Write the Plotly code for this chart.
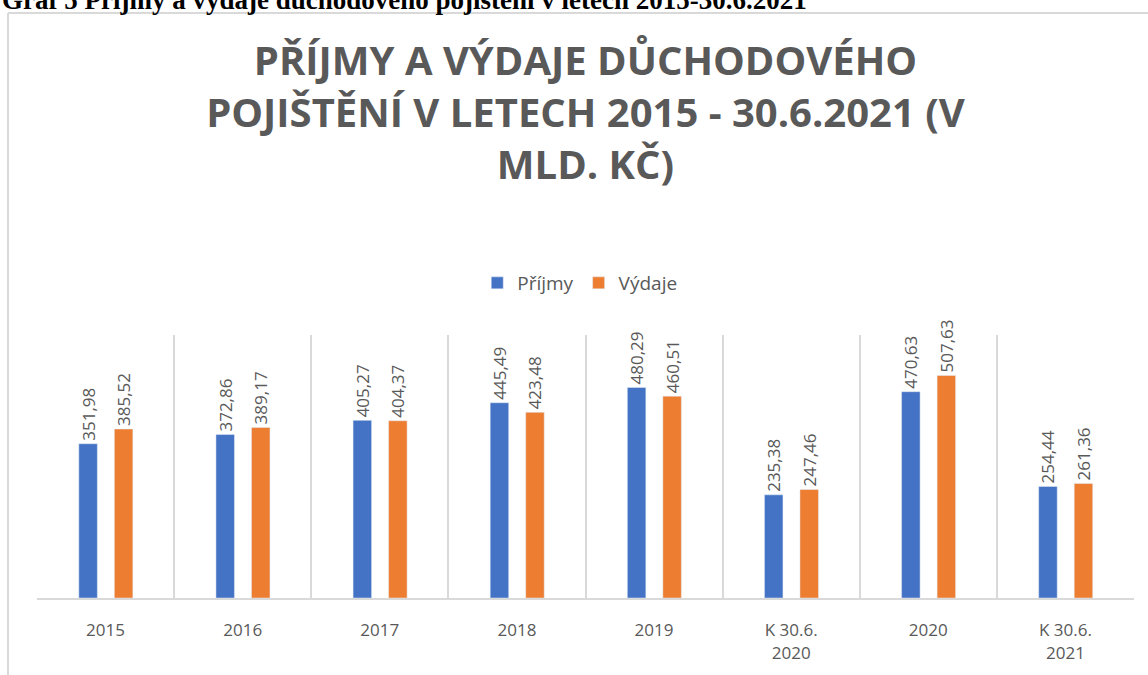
import plotly.graph_objects as go

# data (mld. Kč)
categories = ["2015", "2016", "2017", "2018", "2019", "K 30.6.<br>2020", "2020", "K 30.6.<br>2021"]
prijmy = [351.98, 372.86, 405.27, 445.49, 480.29, 235.38, 470.63, 254.44]
vydaje = [385.52, 389.17, 404.37, 423.48, 460.51, 247.46, 507.63, 261.36]

BLUE = "#4472C4"
ORANGE = "#ED7D31"
GREY_TXT = "#595959"
GRID = "#D9D9D9"
W, H = 1148, 675


def fmt(v):
    return f"{v:.2f}".replace(".", ",")


fig = go.Figure()
fig.add_trace(go.Bar(
    x=categories, y=prijmy, name="Příjmy", marker_color=BLUE,
    width=0.135, offset=-0.195,
    text=[fmt(v) for v in prijmy], textposition="outside", textangle=-90,
    textfont=dict(size=17, color=GREY_TXT), cliponaxis=False, constraintext="none",
))
fig.add_trace(go.Bar(
    x=categories, y=vydaje, name="Výdaje", marker_color=ORANGE,
    width=0.135, offset=0.064,
    text=[fmt(v) for v in vydaje], textposition="outside", textangle=-90,
    textfont=dict(size=17, color=GREY_TXT), cliponaxis=False, constraintext="none",
))

fig.update_layout(
    width=W, height=H,
    margin=dict(l=0, r=0, t=0, b=0),
    paper_bgcolor="white", plot_bgcolor="white",
    font=dict(family="Open Sans", color=GREY_TXT),
    barmode="overlay",
    title=dict(
        text="PŘÍJMY A VÝDAJE DŮCHODOVÉHO<br>POJIŠTĚNÍ V LETECH 2015 - 30.6.2021 (V<br>MLD. KČ)",
        x=0.51, xanchor="center", y=1 - 75 / H, yanchor="top",
        font=dict(family="Open Sans", size=40, color=GREY_TXT, weight="bold"),
    ),
    legend=dict(
        orientation="h", x=0.505, xanchor="center", y=1 - 283 / H, yanchor="middle",
        font=dict(size=19, color=GREY_TXT), traceorder="normal",
    ),
    xaxis=dict(
        domain=[37 / W, 1134 / W], range=[-0.5, 7.5],
        tickson="boundaries", showgrid=True, gridcolor=GRID, gridwidth=1.5,
        showline=True, linecolor=GRID, linewidth=2, ticks="",
        tickfont=dict(size=17, color=GREY_TXT), ticklabelstandoff=16,
    ),
    yaxis=dict(
        domain=[(H - 598) / H, (H - 335) / H], range=[0, 600],
        showgrid=False, showticklabels=False, zeroline=False, showline=False,
    ),
    shapes=[
        dict(type="line", xref="paper", yref="paper", x0=8 / W, x1=8 / W, y0=0, y1=1 - 13 / H,
             line=dict(color=GRID, width=2)),
        dict(type="line", xref="paper", yref="paper", x0=8 / W, x1=1, y0=1 - 13 / H, y1=1 - 13 / H,
             line=dict(color=GRID, width=2)),
    ],
    annotations=[
        dict(text="<b>Graf 5 Příjmy a výdaje důchodového pojištění v letech 2015-30.6.2021</b>",
             xref="paper", yref="paper", x=0, y=1, xanchor="left", yanchor="bottom", yshift=-17,
             showarrow=False, font=dict(family="Liberation Serif", size=27, color="black")),
    ],
)

# drop the default page margin so the chart sits flush in the window
fig.write_html("out.html", config={"displayModeBar": False},
               post_script="document.body.style.margin='0';")
